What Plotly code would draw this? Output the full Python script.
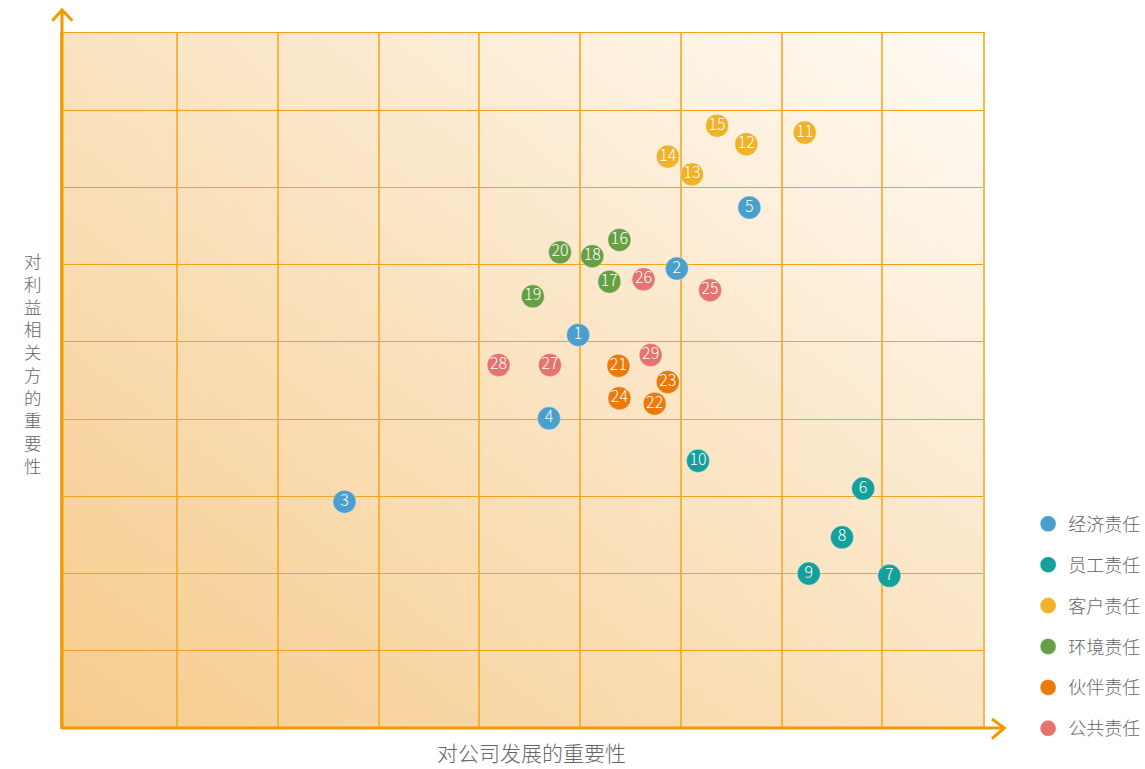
import base64
import struct
import zlib

import plotly.graph_objects as go

# ---------------- data ----------------
point_labels = [str(i) for i in range(1, 30)]
x_values = [4.98, 5.96, 2.66, 4.69, 6.68,
            7.81, 8.07, 7.60, 7.27, 6.17,
            7.23, 6.65, 6.11, 5.87, 6.36,
            5.39, 5.29, 5.12, 4.53, 4.80,
            5.38, 5.74, 5.87, 5.39,
            6.29, 5.63, 4.70, 4.19, 5.70]
y_values = [5.09, 5.95, 2.93, 4.01, 6.74,
            3.10, 1.97, 2.47, 2.00, 3.46,
            7.71, 7.56, 7.17, 7.40, 7.80,
            6.32, 5.78, 6.11, 5.59, 6.16,
            4.69, 4.20, 4.48, 4.27,
            5.67, 5.81, 4.70, 4.70, 4.83]
groups = ["经济责任"] * 5 + ["员工责任"] * 5 + ["客户责任"] * 5 + \
         ["环境责任"] * 5 + ["伙伴责任"] * 4 + ["公共责任"] * 5
categories = ["经济责任", "员工责任", "客户责任", "环境责任", "伙伴责任", "公共责任"]
category_colors = ["#4a9fcc", "#15a09b", "#f0b229", "#67a044", "#ea7a0d", "#e5736f"]
grid_ticks = [1, 2, 3, 4, 5, 6, 7, 8, 9]
x_title = "对公司发展的重要性"
y_title = "对利益相关方的重要性"

FONT = "Noto Sans CJK SC"
AXIS_COLOR = "#f39800"


# ---------------- gradient background image ----------------
def make_gradient_png(w, h, stops):
    def lerp(c1, c2, t):
        return [round(c1[k] + (c2[k] - c1[k]) * t) for k in range(3)]

    def color_at(t):
        for (p0, c0), (p1, c1) in zip(stops[:-1], stops[1:]):
            if t <= p1:
                return lerp(c0, c1, (t - p0) / (p1 - p0))
        return stops[-1][1]

    raw = bytearray()
    for j in range(h):
        raw.append(0)
        v = 1 - j / (h - 1)
        for i in range(w):
            u = i / (w - 1)
            raw.extend(color_at((u + v) / 2))

    def chunk(tag, data):
        return (struct.pack(">I", len(data)) + tag + data +
                struct.pack(">I", zlib.crc32(tag + data) & 0xffffffff))

    png = (b"\x89PNG\r\n\x1a\n" +
           chunk(b"IHDR", struct.pack(">IIBBBBB", w, h, 8, 2, 0, 0, 0)) +
           chunk(b"IDAT", zlib.compress(bytes(raw), 9)) +
           chunk(b"IEND", b""))
    return "data:image/png;base64," + base64.b64encode(png).decode()


bg_src = make_gradient_png(184, 139, [
    (0.0, (246, 204, 141)),
    (0.5, (250, 227, 192)),
    (1.0, (255, 251, 245)),
])

# ---------------- figure ----------------
fig = go.Figure()

for cat, col in zip(categories, category_colors):
    idx = [i for i, g in enumerate(groups) if g == cat]
    fig.add_trace(go.Scatter(
        x=[x_values[i] for i in idx],
        y=[y_values[i] for i in idx],
        text=[point_labels[i] for i in idx],
        mode="markers+text",
        name=cat,
        legendgroup=cat,
        marker=dict(size=23, color=col, line=dict(width=1, color="rgba(255,255,255,0.35)")),
        textposition="middle center",
        textfont=dict(family=FONT, size=16, color="white", weight=300),
        hoverinfo="skip",
        cliponaxis=False,
    ))

# axis lines with arrowheads (paper coordinates)
shapes = [
    dict(type="line", xref="paper", yref="paper", x0=0, y0=0, x1=1.0231, y1=0,
         line=dict(color=AXIS_COLOR, width=3), layer="above"),
    dict(type="line", xref="paper", yref="paper", x0=0, y0=0, x1=0, y1=1.0331,
         line=dict(color=AXIS_COLOR, width=3), layer="above"),
    dict(type="path", xref="paper", yref="paper",
         path="M 1.0097 0.0130 L 1.0231 0 L 1.0097 -0.0154",
         line=dict(color=AXIS_COLOR, width=3), layer="above"),
    dict(type="path", xref="paper", yref="paper",
         path="M -0.0105 1.0177 L 0 1.0331 L 0.0112 1.0177",
         line=dict(color=AXIS_COLOR, width=3), layer="above"),
]

annotations = [
    dict(text=x_title, xref="paper", yref="paper", x=0.5103, y=-0.0345,
         showarrow=False, xanchor="center", yanchor="middle",
         font=dict(family=FONT, size=21, color="#666666", weight=300)),
    dict(text="<br>".join(y_title), xref="paper", yref="paper",
         x=(33 - 62) / 921, y=(728 - 363) / 695,
         showarrow=False, xanchor="center", yanchor="middle", align="center",
         font=dict(family=FONT, size=17.5, color="#666666", weight=300)),
]

fig.update_layout(
    width=1145, height=769,
    margin=dict(l=62, r=162, t=33, b=41, autoexpand=False),
    paper_bgcolor="white",
    plot_bgcolor="rgba(0,0,0,0)",
    images=[dict(source=bg_src, xref="paper", yref="paper", x=0, y=1,
                 sizex=1, sizey=1, sizing="stretch", xanchor="left", yanchor="top",
                 layer="below")],
    xaxis=dict(range=[-0.145, 9], tickvals=grid_ticks, showticklabels=False,
               showgrid=True, gridcolor="rgba(246,166,38,0.8)", gridwidth=1.5,
               zeroline=False, showline=True, mirror=True,
               linecolor="#f4a11e", linewidth=1.2, ticks=""),
    yaxis=dict(range=[0, 9], tickvals=grid_ticks, showticklabels=False,
               showgrid=True, gridcolor="#f4a11e", gridwidth=1.2,
               zeroline=False, showline=True, mirror=True,
               linecolor="rgba(246,166,38,0.8)", linewidth=1.5, ticks=""),
    shapes=shapes,
    annotations=annotations,
    showlegend=True,
    legend=dict(x=1.049, xanchor="left", y=0.32, yanchor="top",
                font=dict(family=FONT, size=18, color="#666666", weight=300),
                tracegroupgap=14.5, itemsizing="trace",
                bgcolor="rgba(0,0,0,0)"),
    font=dict(family=FONT),
)

fig.write_html("out.html",
               config={"displayModeBar": False},
               post_script="document.body.style.margin='0px';"
                           "document.body.style.overflow='hidden';")
